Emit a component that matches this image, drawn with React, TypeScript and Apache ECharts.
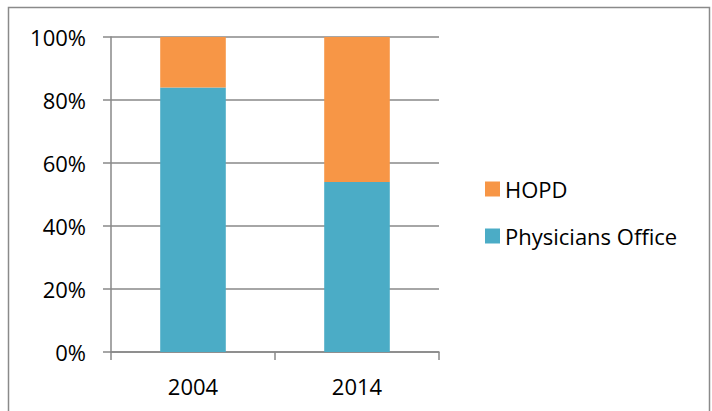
import React, { useEffect, useRef } from "react";
import * as echarts from "echarts";

const categories = ["2004", "2014"];
const physiciansOffice = [84, 54];
const hopd = [16, 46];
const seriesNames = ["HOPD", "Physicians Office"];

export default function App() {
  const ref = useRef<HTMLDivElement>(null);
  useEffect(() => {
    const chart = echarts.init(ref.current!, null, { renderer: "svg" });
    const font = "Open Sans";
    chart.setOption({
      animation: false,
      backgroundColor: "#ffffff",
      textStyle: { fontFamily: font },
      graphic: [
        {
          type: "rect",
          shape: { x: 8.5, y: 7.5, width: 701, height: 430 },
          style: { fill: "none", stroke: "#8a8a8a", lineWidth: 1.5 },
          silent: true,
        },
      ],
      grid: { left: 111, right: 273, top: 37, bottom: 59 },
      legend: {
        orient: "vertical",
        left: 480,
        top: 173,
        itemWidth: 15,
        itemHeight: 15,
        itemGap: 25,
        icon: "rect",
        data: seriesNames,
        textStyle: { fontFamily: font, fontSize: 22, color: "#000", lineHeight: 22 },
      },
      xAxis: {
        type: "category",
        data: categories,
        axisLine: { lineStyle: { color: "#888", width: 1.5 } },
        axisTick: { show: true, length: 8, lineStyle: { color: "#888", width: 1.5 } },
        axisLabel: { fontFamily: font, fontSize: 22, color: "#000", margin: 23 },
      },
      yAxis: {
        type: "value",
        min: 0,
        max: 100,
        interval: 20,
        axisLine: { show: true, lineStyle: { color: "#888", width: 1.5 } },
        axisTick: { show: true, inside: false, length: 8, lineStyle: { color: "#888", width: 1.5 } },
        splitLine: { show: true, lineStyle: { color: "#888", width: 1.5 } },
        axisLabel: {
          fontFamily: font,
          fontSize: 22,
          color: "#000",
          margin: 25,
          formatter: (v: number) => v + "%",
        },
      },
      series: [
        {
          name: "Physicians Office",
          type: "bar",
          stack: "total",
          barWidth: "40%",
          data: physiciansOffice,
          itemStyle: { color: "#4BACC6" },
        },
        {
          name: "HOPD",
          type: "bar",
          stack: "total",
          barWidth: "40%",
          data: hopd,
          itemStyle: { color: "#F79646" },
        },
      ],
    });
    return () => chart.dispose();
  }, []);
  return (
    <div
      ref={ref}
      style={{ position: "fixed", left: 0, top: 0, width: 712, height: 411 }}
    />
  );
}
